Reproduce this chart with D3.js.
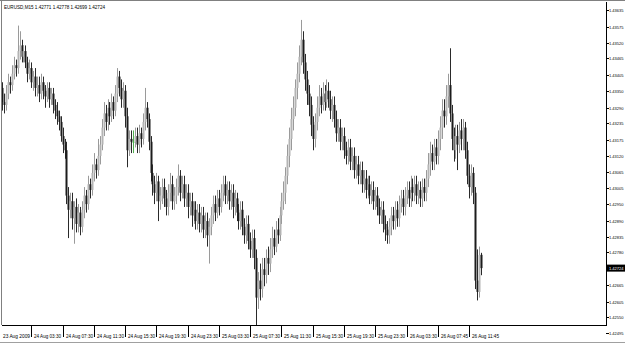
<!DOCTYPE html>
<html>
<head>
<meta charset="utf-8">
<script src="https://cdn.jsdelivr.net/npm/d3@7/dist/d3.min.js"></script>
<style>
  body { margin: 0; background: #fff; }
  svg { display: block; }
  text { font-family: "Liberation Sans", Arial, sans-serif; }
</style>
</head>
<body>
<svg id="chart" width="625" height="344"></svg>
<script>
const title = 'EURUSD,M15  1.42771 1.42778 1.42699 1.42724';

// M15 bars, 23 Aug 2009 23:30 .. 26 Aug 2009 13:15
const opens = [
  1.4333,1.4336,1.4331,1.4330,1.4334,1.4338,1.4337,1.4341,1.4344,1.4343,
  1.4349,1.4351,1.4347,1.4349,1.4345,1.4341,1.4343,1.4338,1.4340,1.4336,
  1.4337,1.4334,1.4338,1.4335,1.4333,1.4336,1.4332,1.4334,1.4330,1.4328,
  1.4326,1.4324,1.4319,1.4316,1.4314,1.4298,1.4293,1.4296,1.4290,1.4294,
  1.4288,1.4292,1.4287,1.4293,1.4298,1.4295,1.4302,1.4300,1.4306,1.4309,
  1.4307,1.4312,1.4316,1.4322,1.4327,1.4324,1.4329,1.4326,1.4331,1.4328,
  1.4334,1.4340,1.4336,1.4332,1.4335,1.4326,1.4314,1.4318,1.4317,1.4317,
  1.4319,1.4316,1.4320,1.4318,1.4324,1.4329,1.4325,1.4317,1.4306,1.4302,
  1.4299,1.4303,1.4296,1.4298,1.4301,1.4297,1.4294,1.4299,1.4302,1.4296,
  1.4298,1.4301,1.4305,1.4299,1.4302,1.4297,1.4299,1.4294,1.4296,1.4291,
  1.4293,1.4289,1.4292,1.4288,1.4291,1.4286,1.4289,1.4284,1.4287,1.4291,
  1.4295,1.4292,1.4297,1.4294,1.4299,1.4302,1.4298,1.4300,1.4296,1.4299,
  1.4294,1.4297,1.4292,1.4289,1.4293,1.4287,1.4284,1.4288,1.4282,1.4279,
  1.4283,1.4276,1.4262,1.4268,1.4265,1.4272,1.4270,1.4276,1.4274,1.4279,
  1.4283,1.4280,1.4286,1.4284,1.4291,1.4296,1.4299,1.4305,1.4312,1.4318,
  1.4325,1.4329,1.4336,1.4341,1.4347,1.4353,1.4345,1.4339,1.4334,1.4330,
  1.4323,1.4318,1.4324,1.4329,1.4333,1.4330,1.4334,1.4331,1.4335,1.4332,
  1.4328,1.4330,1.4325,1.4320,1.4322,1.4317,1.4319,1.4314,1.4312,1.4315,
  1.4310,1.4312,1.4307,1.4309,1.4305,1.4307,1.4302,1.4304,1.4300,1.4302,
  1.4298,1.4300,1.4296,1.4298,1.4294,1.4291,1.4293,1.4288,1.4286,1.4284,
  1.4287,1.4291,1.4289,1.4293,1.4290,1.4295,1.4297,1.4294,1.4298,1.4300,
  1.4297,1.4301,1.4299,1.4302,1.4298,1.4300,1.4297,1.4301,1.4299,1.4304,
  1.4309,1.4313,1.4310,1.4315,1.4312,1.4318,1.4322,1.4328,1.4326,1.4333,
  1.4337,1.4327,1.4318,1.4314,1.4319,1.4316,1.4321,1.4318,1.4322,1.4314,
  1.4305,1.4301,1.4306,1.4299,1.4268,1.4264,1.42771
];
const highs = [
  1.4339,1.4338,1.4334,1.4337,1.4341,1.4340,1.4344,1.4347,1.4346,1.4358,
  1.4356,1.4353,1.4351,1.4351,1.4347,1.4346,1.4345,1.4342,1.4343,1.4340,
  1.4340,1.4341,1.4340,1.4337,1.4338,1.4338,1.4336,1.4336,1.4332,1.4331,
  1.4328,1.4326,1.4322,1.4318,1.4317,1.4301,1.4299,1.4299,1.4296,1.4297,
  1.4295,1.4294,1.4296,1.4301,1.4300,1.4305,1.4304,1.4309,1.4313,1.4311,
  1.4318,1.4319,1.4325,1.4331,1.4330,1.4332,1.4331,1.4334,1.4333,1.4337,
  1.4343,1.4342,1.4339,1.4338,1.4337,1.4329,1.4321,1.4321,1.4321,1.4322,
  1.4322,1.4323,1.4322,1.4327,1.4336,1.4331,1.4327,1.4319,1.4309,1.4305,
  1.4306,1.4305,1.4301,1.4304,1.4304,1.4300,1.4302,1.4306,1.4305,1.4301,
  1.4304,1.4309,1.4307,1.4305,1.4305,1.4302,1.4302,1.4299,1.4299,1.4296,
  1.4296,1.4295,1.4295,1.4294,1.4294,1.4292,1.4292,1.4290,1.4294,1.4298,
  1.4298,1.4300,1.4300,1.4302,1.4305,1.4305,1.4303,1.4303,1.4302,1.4302,
  1.4300,1.4299,1.4295,1.4296,1.4296,1.4290,1.4291,1.4291,1.4285,1.4286,
  1.4286,1.4279,1.4271,1.4274,1.4276,1.4276,1.4279,1.4280,1.4283,1.4287,
  1.4286,1.4289,1.4290,1.4294,1.4299,1.4303,1.4308,1.4316,1.4322,1.4329,
  1.4333,1.4339,1.4345,1.4351,1.4360,1.4356,1.4348,1.4342,1.4337,1.4333,
  1.4326,1.4327,1.4333,1.4337,1.4336,1.4338,1.4337,1.4339,1.4338,1.4335,
  1.4333,1.4333,1.4328,1.4325,1.4325,1.4322,1.4322,1.4317,1.4318,1.4318,
  1.4315,1.4315,1.4312,1.4312,1.4310,1.4310,1.4307,1.4307,1.4305,1.4305,
  1.4303,1.4303,1.4301,1.4301,1.4297,1.4296,1.4296,1.4291,1.4289,1.4290,
  1.4294,1.4294,1.4296,1.4296,1.4298,1.4300,1.4300,1.4301,1.4303,1.4303,
  1.4305,1.4304,1.4305,1.4305,1.4303,1.4303,1.4304,1.4304,1.4307,1.4313,
  1.4317,1.4316,1.4318,1.4318,1.4321,1.4326,1.4332,1.4332,1.4337,1.4341,
  1.4350,1.4330,1.4322,1.4323,1.4323,1.4324,1.4325,1.4325,1.4324,1.4317,
  1.4309,1.4309,1.4308,1.4301,1.4279,1.4280,1.42778
];
const lows = [
  1.4330,1.4328,1.4327,1.4328,1.4332,1.4334,1.4335,1.4339,1.4340,1.4341,
  1.4346,1.4345,1.4345,1.4343,1.4338,1.4339,1.4336,1.4335,1.4333,1.4333,
  1.4331,1.4332,1.4332,1.4329,1.4331,1.4329,1.4330,1.4327,1.4325,1.4323,
  1.4321,1.4317,1.4313,1.4311,1.4295,1.4283,1.4290,1.4286,1.4281,1.4285,
  1.4285,1.4284,1.4285,1.4290,1.4292,1.4293,1.4297,1.4298,1.4303,1.4304,
  1.4305,1.4309,1.4314,1.4319,1.4321,1.4321,1.4323,1.4324,1.4325,1.4326,
  1.4331,1.4333,1.4329,1.4329,1.4322,1.4308,1.4312,1.4313,1.4313,1.4315,
  1.4313,1.4313,1.4315,1.4316,1.4321,1.4322,1.4314,1.4303,1.4298,1.4295,
  1.4296,1.4289,1.4293,1.4295,1.4294,1.4291,1.4291,1.4296,1.4293,1.4293,
  1.4295,1.4298,1.4296,1.4297,1.4294,1.4294,1.4290,1.4291,1.4287,1.4288,
  1.4286,1.4286,1.4285,1.4285,1.4283,1.4283,1.4280,1.4274,1.4284,1.4288,
  1.4289,1.4290,1.4291,1.4292,1.4296,1.4295,1.4295,1.4293,1.4293,1.4290,
  1.4291,1.4289,1.4286,1.4286,1.4284,1.4281,1.4281,1.4279,1.4276,1.4276,
  1.4272,1.4252,1.4258,1.4261,1.4262,1.4266,1.4267,1.4270,1.4271,1.4276,
  1.4277,1.4278,1.4281,1.4282,1.4288,1.4293,1.4295,1.4302,1.4308,1.4314,
  1.4321,1.4326,1.4332,1.4338,1.4344,1.4341,1.4335,1.4330,1.4326,1.4319,
  1.4314,1.4315,1.4321,1.4326,1.4327,1.4328,1.4328,1.4329,1.4329,1.4325,
  1.4324,1.4322,1.4317,1.4317,1.4314,1.4314,1.4311,1.4309,1.4309,1.4307,
  1.4307,1.4304,1.4304,1.4302,1.4302,1.4299,1.4299,1.4297,1.4297,1.4295,
  1.4295,1.4293,1.4293,1.4291,1.4288,1.4288,1.4285,1.4282,1.4281,1.4281,
  1.4284,1.4286,1.4286,1.4287,1.4287,1.4292,1.4291,1.4291,1.4295,1.4294,
  1.4294,1.4296,1.4296,1.4295,1.4295,1.4294,1.4294,1.4296,1.4296,1.4301,
  1.4305,1.4307,1.4307,1.4309,1.4309,1.4314,1.4318,1.4322,1.4323,1.4329,
  1.4324,1.4314,1.4310,1.4311,1.4307,1.4313,1.4314,1.4314,1.4311,1.4302,
  1.4297,1.4298,1.4295,1.4265,1.4261,1.4262,1.42699
];
const closes = [
  1.4336,1.4331,1.4330,1.4334,1.4338,1.4337,1.4341,1.4344,1.4343,1.4349,
  1.4351,1.4347,1.4349,1.4345,1.4341,1.4343,1.4338,1.4340,1.4336,1.4337,
  1.4334,1.4338,1.4335,1.4333,1.4336,1.4332,1.4334,1.4330,1.4328,1.4326,
  1.4324,1.4319,1.4316,1.4314,1.4298,1.4293,1.4296,1.4290,1.4294,1.4288,
  1.4292,1.4287,1.4293,1.4298,1.4295,1.4302,1.4300,1.4306,1.4309,1.4307,
  1.4312,1.4316,1.4322,1.4327,1.4324,1.4329,1.4326,1.4331,1.4328,1.4334,
  1.4340,1.4336,1.4332,1.4335,1.4326,1.4314,1.4318,1.4317,1.4317,1.4319,
  1.4316,1.4320,1.4318,1.4324,1.4329,1.4325,1.4317,1.4306,1.4302,1.4299,
  1.4303,1.4296,1.4298,1.4301,1.4297,1.4294,1.4299,1.4302,1.4296,1.4298,
  1.4301,1.4305,1.4299,1.4302,1.4297,1.4299,1.4294,1.4296,1.4291,1.4293,
  1.4289,1.4292,1.4288,1.4291,1.4286,1.4289,1.4284,1.4287,1.4291,1.4295,
  1.4292,1.4297,1.4294,1.4299,1.4302,1.4298,1.4300,1.4296,1.4299,1.4294,
  1.4297,1.4292,1.4289,1.4293,1.4287,1.4284,1.4288,1.4282,1.4279,1.4283,
  1.4276,1.4262,1.4268,1.4265,1.4272,1.4270,1.4276,1.4274,1.4279,1.4283,
  1.4280,1.4286,1.4284,1.4291,1.4296,1.4299,1.4305,1.4312,1.4318,1.4325,
  1.4329,1.4336,1.4341,1.4347,1.4353,1.4345,1.4339,1.4334,1.4330,1.4323,
  1.4318,1.4324,1.4329,1.4333,1.4330,1.4334,1.4331,1.4335,1.4332,1.4328,
  1.4330,1.4325,1.4320,1.4322,1.4317,1.4319,1.4314,1.4312,1.4315,1.4310,
  1.4312,1.4307,1.4309,1.4305,1.4307,1.4302,1.4304,1.4300,1.4302,1.4298,
  1.4300,1.4296,1.4298,1.4294,1.4291,1.4293,1.4288,1.4286,1.4284,1.4287,
  1.4291,1.4289,1.4293,1.4290,1.4295,1.4297,1.4294,1.4298,1.4300,1.4297,
  1.4301,1.4299,1.4302,1.4298,1.4300,1.4297,1.4301,1.4299,1.4304,1.4309,
  1.4313,1.4310,1.4315,1.4312,1.4318,1.4322,1.4328,1.4326,1.4333,1.4337,
  1.4327,1.4318,1.4314,1.4319,1.4316,1.4321,1.4318,1.4322,1.4314,1.4305,
  1.4301,1.4306,1.4299,1.4268,1.4264,1.4277,1.42724
];

const priceTicks = [
  1.43635, 1.43575, 1.43520, 1.43465, 1.43405, 1.43350, 1.43290,
  1.43235, 1.43175, 1.43120, 1.43065, 1.43005, 1.42950, 1.42890,
  1.42835, 1.42780, 1.42665, 1.42605, 1.42550, 1.42495
];
const lastPrice = 1.42724;

const timeTickBars = [0, 16, 32, 48, 64, 80, 96, 112, 128, 144, 160, 176, 192, 208, 224, 240];
const timeLabels = [
  '23 Aug 2009', '24 Aug 03:30', '24 Aug 07:30', '24 Aug 11:30', '24 Aug 15:30',
  '24 Aug 19:30', '24 Aug 23:30', '25 Aug 03:30', '25 Aug 07:30', '25 Aug 11:30',
  '25 Aug 15:30', '25 Aug 19:30', '25 Aug 23:30', '26 Aug 03:30', '26 Aug 07:45',
  '26 Aug 11:45'
];

const W = 625, H = 344;
const pL = 2, pT = 2, pR = 606, pB = 325;

const svg = d3.select('#chart');

// bar index -> pixel (about 1.95 px per bar)
const x = d3.scaleLinear().domain([0, 310]).range([0, 606]);
const y = d3.scaleLinear().domain([1.42495, 1.43635]).range([333, 10]);

svg.append('defs').append('clipPath').attr('id', 'clip')
  .append('rect').attr('x', pL).attr('y', pT).attr('width', pR - pL).attr('height', pB - pT);

const bars = d3.range(closes.length).map(i => ({
  i, o: opens[i], h: highs[i], l: lows[i], c: closes[i]
}));

const bodyColor = d => d.c > d.o ? '#b4b4b4' : (d.c < d.o ? '#1c1c1c' : '#4fae4f');
const wickColor = d => d.c > d.o ? '#9a9a9a' : (d.c < d.o ? '#2a2a2a' : '#4fae4f');

const g = svg.append('g').attr('clip-path', 'url(#clip)');
const candle = g.selectAll('g.candle')
  .data(bars)
  .enter()
  .append('g')
  .attr('class', 'candle');

candle.append('rect')
  .attr('x', d => Math.round(x(d.i)))
  .attr('width', 1)
  .attr('y', d => y(d.h))
  .attr('height', d => Math.max(1, y(d.l) - y(d.h)))
  .attr('fill', wickColor);

candle.append('rect')
  .attr('x', d => Math.round(x(d.i)) - 0.5)
  .attr('width', 2)
  .attr('y', d => y(Math.max(d.o, d.c)))
  .attr('height', d => Math.max(1, Math.abs(y(d.o) - y(d.c))))
  .attr('fill', bodyColor);

// frame
svg.append('line').attr('x1', 0).attr('x2', W).attr('y1', 0.5).attr('y2', 0.5).attr('stroke', '#808080');
svg.append('line').attr('x1', 1.5).attr('x2', 1.5).attr('y1', 0).attr('y2', pB).attr('stroke', '#808080');
svg.append('line').attr('x1', pL).attr('x2', pR).attr('y1', pB + 0.5).attr('y2', pB + 0.5).attr('stroke', '#000');
svg.append('line').attr('x1', pR + 0.5).attr('x2', pR + 0.5).attr('y1', pT).attr('y2', pB + 1).attr('stroke', '#000');
svg.append('line').attr('x1', 0).attr('x2', W).attr('y1', H - 1.5).attr('y2', H - 1.5).attr('stroke', '#a0a0a0');

// title
svg.append('text').attr('x', 4).attr('y', 9).attr('font-size', 5)
  .attr('textLength', 101).attr('lengthAdjust', 'spacingAndGlyphs')
  .attr('fill', '#000').text(title);

// price axis
const pAxis = svg.append('g');
priceTicks.forEach(p => {
  const py = Math.round(y(p)) + 0.5;
  pAxis.append('line').attr('x1', pR).attr('x2', pR + 3).attr('y1', py).attr('y2', py).attr('stroke', '#000');
  pAxis.append('text').attr('x', 609).attr('y', py + 1.5).attr('font-size', 4)
    .attr('fill', '#000').text(p.toFixed(5));
});
const ly = y(lastPrice);
pAxis.append('rect').attr('x', pR + 1).attr('y', ly - 3.5).attr('width', 18).attr('height', 7).attr('fill', '#000');
pAxis.append('text').attr('x', 609).attr('y', ly + 1.5).attr('font-size', 4)
  .attr('fill', '#fff').text(lastPrice.toFixed(5));

// time axis
const tAxis = svg.append('g');
timeTickBars.forEach((b, k) => {
  const tx = Math.round(x(b)) + 0.5;
  if (k > 0) {
    tAxis.append('line').attr('x1', tx).attr('x2', tx).attr('y1', pB).attr('y2', pB + 12).attr('stroke', '#000');
  }
  tAxis.append('text').attr('x', tx + 2.5).attr('y', 337.5).attr('font-size', 5)
    .attr('textLength', 27).attr('lengthAdjust', 'spacingAndGlyphs')
    .attr('fill', '#000').text(timeLabels[k]);
});
</script>
</body>
</html>
